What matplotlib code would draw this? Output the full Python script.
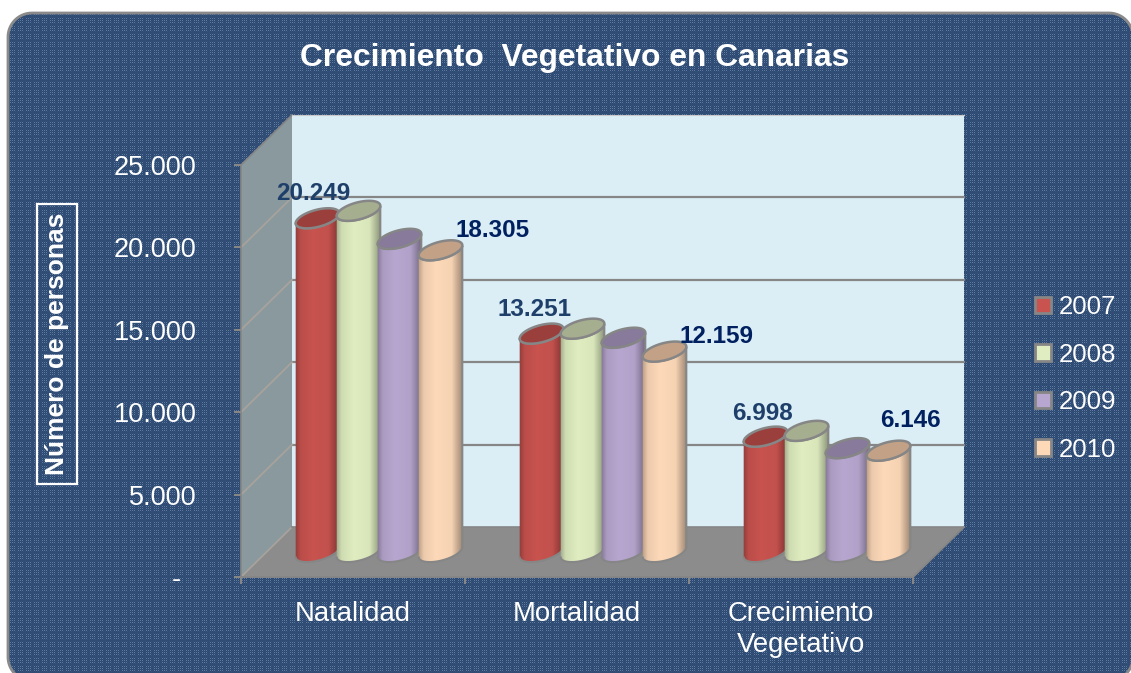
import numpy as np
import matplotlib
matplotlib.use("Agg")
import matplotlib.pyplot as plt
from matplotlib.patches import PathPatch, Patch, Polygon
from matplotlib.path import Path

plt.rcParams['font.family'] = ['Liberation Sans', 'DejaVu Sans']

categories = ['Natalidad', 'Mortalidad', 'Crecimiento\nVegetativo']
years = ['2007', '2008', '2009', '2010']
v2007 = [20249, 13251, 6998]
v2008 = [20700, 13550, 7350]
v2009 = [19000, 13000, 6300]
v2010 = [18305, 12159, 6146]
series = [v2007, v2008, v2009, v2010]
yticks = [0, 5000, 10000, 15000, 20000, 25000]
ylabels = ['-  ', '5.000', '10.000', '15.000', '20.000', '25.000']

body_cols = ['#c8534f', '#dfedc0', '#b7a6cf', '#fdd9b8']
top_cols = ['#9a3f3c', '#a6ae90', '#877a9a', '#c2a187']
# which bars carry a label, and the offset of it from the top of the bar (pixels)
label_offs = {0: [(-4, 25), (-7, 24), (-3, 23)], 3: [(52, 20), (52, 15), (22, 30)]}
label_cols = {0: '#1f3f6b', 3: '#002060'}

W, H = 1131, 673
GRAY = '#868686'

fig = plt.figure(figsize=(W/100, H/100), dpi=100, facecolor='white')

#-------------------------------background------------------------------------------------#
bg = fig.add_axes([0, 0, 1, 1])
bg.set_xlim(0, W)
bg.set_ylim(H, 0)
bg.axis('off')
tile = np.zeros((8, 8, 3))
tile[:] = (0.17, 0.28, 0.44)
tile[::2, ::2] = (0.38, 0.49, 0.63)
tile[1::2, 1::2] = (0.21, 0.33, 0.49)
tile[0::8, :] = (0.19, 0.30, 0.46)
tile[:, 0::8] = (0.19, 0.30, 0.46)
pattern = np.tile(tile, (H//8 + 1, W//8 + 1, 1))[:H, :W]

# rounded outline as a plain polyline, curves get mangled where they leave the canvas
x0, x1, y0, y1, r = 8, 1133, 13, 681, 24
outline = []
for cx, cy, start in [(x1-r, y0+r, -90), (x1-r, y1-r, 0), (x0+r, y1-r, 90), (x0+r, y0+r, 180)]:
    ang = np.radians(np.linspace(start, start+90, 20))
    outline += list(zip(cx + r*np.cos(ang), cy + r*np.sin(ang)))
box = Polygon(outline, closed=True, facecolor='none', edgecolor='#8a8a8a', lw=2, clip_on=False, zorder=3)
bg.add_patch(box)
im = bg.imshow(pattern, extent=(0, W, H, 0), aspect='auto', interpolation='nearest', zorder=1)
im.set_clip_path(box)
bg.set_xlim(0, W)
bg.set_ylim(H, 0)

#-------------------------------chart axes-------------------------------------------------#
ax = fig.add_axes([241/W, 1 - 577/H, 672/W, 412/H])
ax.patch.set_alpha(0)
ax.set_xlim(0, 3)
ax.set_ylim(0, 25000)
ax.set_autoscale_on(False)
ux = 3/672       # data units per pixel
uy = 25000/412
dep_x = 51*ux
dep_y = 50*uy


def wall(pts, col, z):
    ax.add_patch(Polygon(pts, closed=True, facecolor=col, edgecolor='none', zorder=z, clip_on=False))


wall([(dep_x, dep_y), (3+dep_x, dep_y), (3+dep_x, 25000+dep_y), (dep_x, 25000+dep_y)], '#dbeef6', 1)
wall([(0, 0), (dep_x, dep_y), (dep_x, 25000+dep_y), (0, 25000)], '#8a999e', 1)
wall([(0, 0), (dep_x, dep_y), (3+dep_x, dep_y), (3, 0)], '#8c8c8c', 1)
for v in yticks[1:-1]:
    ax.plot([dep_x, 3+dep_x], [v+dep_y, v+dep_y], color=GRAY, lw=1.6, zorder=2, clip_on=False)
    ax.plot([0, dep_x], [v, v+dep_y], color='#a8a29c', lw=1.3, zorder=2, clip_on=False)
ax.plot([0, dep_x], [0, dep_y], color='#a8a29c', lw=1.3, zorder=2, clip_on=False)
ax.plot([0, dep_x], [25000, 25000+dep_y], color=GRAY, lw=1.2, zorder=2, clip_on=False)
ax.plot([dep_x, 3+dep_x], [25000+dep_y]*2, color='#c8c8c8', lw=0.8, zorder=2, clip_on=False)
ax.plot([dep_x, 3+dep_x], [dep_y]*2, color=GRAY, lw=1.2, zorder=2, clip_on=False)
ax.plot([3, 3+dep_x], [0, dep_y], color=GRAY, lw=1.4, zorder=2, clip_on=False)
ax.plot([0, 3], [0, 0], color=GRAY, lw=1.4, zorder=2, clip_on=False)
ax.plot([0, 0], [0, 25000], color=GRAY, lw=1.2, zorder=2, clip_on=False)

#-------------------------------cylinders--------------------------------------------------#
first = 54*ux     # left of the first cylinder in a group
step = 41*ux
bw = 45*ux
base = 25*uy      # floor height of the cylinder base
a, b, tilt = 22.5, 8.5, np.radians(15)


def ell(cx, cy, t):
    ex = a*np.cos(t)*np.cos(tilt) - b*np.sin(t)*np.sin(tilt)
    ey = a*np.cos(t)*np.sin(tilt) + b*np.sin(t)*np.cos(tilt)
    return cx + ex*ux, cy + ey*uy


z = 3
for s, vals in enumerate(series):
    rgb = np.array(matplotlib.colors.to_rgb(body_cols[s]))
    shade = np.interp(np.linspace(0, 1, 64), [0, 0.12, 0.4, 0.75, 1], [0.72, 0.93, 1.0, 0.97, 0.62])
    grad = (rgb[None, None, :]*shade[None, :, None]).clip(0, 1)
    for g, v in enumerate(vals):
        cx = g + first + s*step + bw/2
        top = base + v
        t_low = np.linspace(np.pi*0.95, np.pi*1.95, 50)
        x1_, y1_ = ell(cx, base, t_low)
        x2_, y2_ = ell(cx, top, t_low[::-1])
        pts = np.column_stack([np.r_[x1_, x2_], np.r_[y1_, y2_]])
        body = PathPatch(Path(pts, closed=False), facecolor='none', edgecolor=GRAY, lw=1.5, zorder=z+1)
        ax.add_patch(body)
        im = ax.imshow(grad, extent=(cx-bw/2, cx+bw/2, base-600, top+600), aspect='auto', zorder=z,
                       interpolation='bilinear')
        im.set_clip_path(body)
        xt, yt = ell(cx, top, np.linspace(0, 2*np.pi, 80))
        ax.fill(xt, yt, facecolor=top_cols[s], edgecolor=GRAY, lw=1.8, zorder=z+2)
        z += 3

for s, offs in label_offs.items():
    for g, off in enumerate(offs):
        cx = g + first + s*step + bw/2
        ax.annotate(f'{series[s][g]:,}'.replace(',', '.'), (cx, base+series[s][g]), xytext=off,
                    textcoords='offset pixels', ha='center', va='center', fontsize=17.5, fontweight='bold',
                    color=label_cols[s], zorder=100, annotation_clip=False)

#-------------------------------axes text--------------------------------------------------#
for sp in ax.spines.values():
    sp.set_visible(False)
ax.set_yticks(yticks)
ax.set_yticklabels(ylabels)
ax.tick_params(axis='y', colors=GRAY, length=5, width=1.5, labelcolor='white', labelsize=19.5, pad=27)
ax.set_xticks([0, 1, 2, 3])
ax.set_xticklabels([])
ax.tick_params(axis='x', which='major', colors=GRAY, length=5, width=1.5)
ax.set_xticks([0.5, 1.5, 2.5], minor=True)
ax.set_xticklabels(categories, minor=True, fontsize=19.8, color='white', linespacing=1.25)
ax.tick_params(axis='x', which='minor', length=0, pad=17)

ax.set_ylabel('Número de personas', fontsize=19, fontweight='bold', color='white',
              bbox=dict(facecolor='none', edgecolor='white', lw=1.6, pad=6))
ax.yaxis.set_label_coords((69-241)/672, (577-344)/412)

fig.suptitle('Crecimiento  Vegetativo en Canarias', x=575/W, y=1 - 58/H, va='center',
             fontsize=22.9, fontweight='bold', color='white')

handles = [Patch(facecolor=c, edgecolor=GRAY, lw=2, label=y) for c, y in zip(body_cols, years)]
ax.legend(handles=handles, loc='upper left', bbox_to_anchor=(1035/W, 1 - 295/H), bbox_transform=fig.transFigure,
          frameon=False, fontsize=18.6, labelcolor='white', handlelength=0.6, handleheight=0.6,
          handletextpad=0.3, labelspacing=0.91, borderpad=0, borderaxespad=0)

fig.savefig('out.png', dpi=100)
